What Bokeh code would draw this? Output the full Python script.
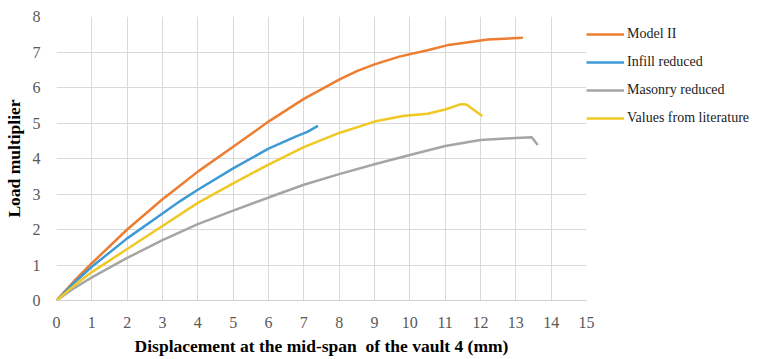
from bokeh.plotting import figure
from bokeh.models import Legend, LegendItem, FixedTicker, Range1d
from bokeh.embed import file_html
from bokeh.resources import INLINE

# Data
model_x = [0, 0.5, 1, 2, 3, 3.5, 4, 5, 6, 7, 8, 8.5, 9, 9.7, 10.5, 11.1, 12.2, 13.2]
model_y = [0, 0.55, 1.05, 2.0, 2.85, 3.24, 3.63, 4.33, 5.04, 5.68, 6.22, 6.46, 6.65, 6.87, 7.05, 7.2, 7.35, 7.4]

infill_x = [0, 0.5, 1, 2, 3, 3.5, 4, 5, 6, 6.8, 7.1, 7.4]
infill_y = [0, 0.5, 0.95, 1.75, 2.45, 2.8, 3.12, 3.72, 4.28, 4.63, 4.75, 4.92]

masonry_x = [0, 0.5, 1, 2, 3, 4, 5, 6, 7, 8, 9, 10, 11, 12, 13, 13.45, 13.62]
masonry_y = [0, 0.35, 0.65, 1.2, 1.7, 2.15, 2.53, 2.9, 3.26, 3.56, 3.84, 4.1, 4.35, 4.52, 4.58, 4.6, 4.38]

lit_x = [0, 0.5, 1, 2, 3, 4, 5, 6, 7, 8, 9, 9.8, 10.5, 11, 11.45, 11.6, 12.05]
lit_y = [0, 0.42, 0.8, 1.45, 2.1, 2.75, 3.3, 3.83, 4.32, 4.72, 5.04, 5.2, 5.26, 5.38, 5.53, 5.52, 5.2]

names = ["Model II", "Infill reduced", "Masonry reduced", "Values from literature"]
colors = ["#ED7D31", "#3E9AD6", "#A5A5A5", "#F0C823"]

x_ticks = list(range(0, 16))
y_ticks = list(range(0, 9))

p = figure(frame_width=530, frame_height=284, output_backend="svg", toolbar_location=None,
           x_range=Range1d(0, 15), y_range=Range1d(0, 8),
           min_border_left=40, min_border_right=0, min_border_top=16, min_border_bottom=8)
p.outline_line_color = None
p.background_fill_color = "white"
p.border_fill_color = "white"

series = [(model_x, model_y), (infill_x, infill_y), (masonry_x, masonry_y), (lit_x, lit_y)]
renderers = []
for (xs, ys), c in zip(series, colors):
    r = p.line(xs, ys, line_color=c, line_width=2.5)
    renderers.append(r)

font = "Liberation Serif"
for ax in (p.xaxis, p.yaxis):
    ax.major_tick_line_color = None
    ax.minor_tick_line_color = None
    ax.major_label_text_font = font
    ax.major_label_text_font_size = "16px"
    ax.major_label_text_color = "#595959"
    ax.axis_label_text_font = font
    ax.axis_label_text_font_size = "17.5px"
    ax.axis_label_text_font_style = "bold"
    ax.axis_label_text_color = "#000000"

p.xaxis.ticker = FixedTicker(ticks=x_ticks)
p.yaxis.ticker = FixedTicker(ticks=y_ticks)
p.xaxis.axis_line_color = "#d0d0d0"
p.yaxis.axis_line_color = None
p.xaxis.major_label_standoff = 10
p.yaxis.major_label_standoff = 10
p.xaxis.axis_label = "Displacement at the mid-span\u00a0 of the vault 4 (mm)"
p.yaxis.axis_label = "Load multiplier"
p.xaxis.axis_label_standoff = 5
p.yaxis.axis_label_standoff = 6

p.xgrid.grid_line_color = "#d9d9d9"
p.ygrid.grid_line_color = "#d9d9d9"

items = [LegendItem(label=n, renderers=[r]) for n, r in zip(names, renderers)]
legend = Legend(items=items, location=(0, 172), padding=0, margin=0,
                glyph_width=38, glyph_height=20, spacing=8, label_standoff=3,
                label_text_font=font, label_text_font_size="14px",
                label_text_color="#222222",
                background_fill_alpha=0, border_line_color=None)
p.add_layout(legend, "right")

open("out.html", "w").write(file_html(p, INLINE))
